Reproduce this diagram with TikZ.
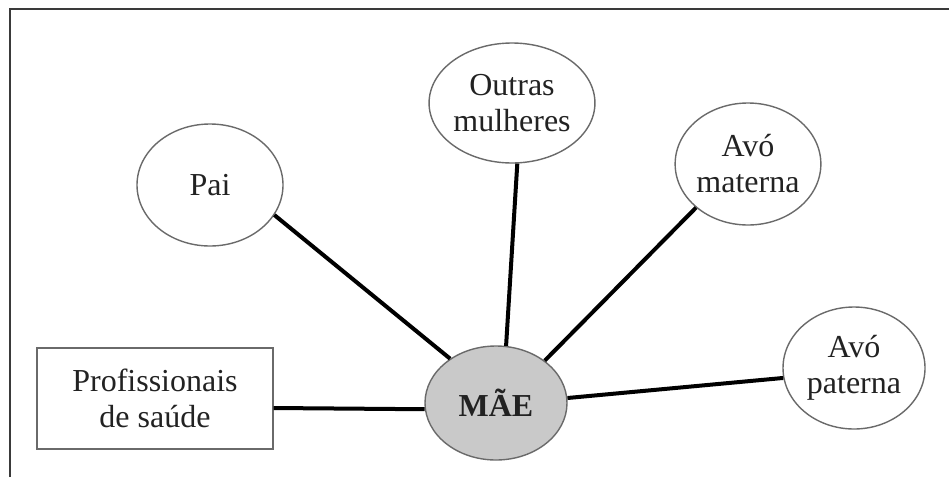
\documentclass[tikz,border=0pt]{standalone}
\usepackage{fontspec}
\setmainfont{Liberation Serif}
\usetikzlibrary{shapes.geometric}
\definecolor{edgegray}{HTML}{6A6A6A}
\definecolor{maefill}{HTML}{C9C9C9}
\definecolor{txt}{HTML}{222222}
\definecolor{framecol}{HTML}{3A3A3A}
\begin{document}
\begin{tikzpicture}[x=1pt,y=-1pt,
  bubble/.style={ellipse,draw=edgegray,line width=1.4pt,fill=white,inner sep=0pt,
    text=txt,align=center,font=\fontsize{32}{36}\selectfont},
  link/.style={line width=4pt,black},
  framel/.style={line width=2pt,framecol}]
\useasboundingbox (0,0) rectangle (949,477);
\fill[white] (0,0) rectangle (949,477);
\coordinate (fa) at (10,477);
\coordinate (fb) at (10,9);
\coordinate (fc) at (949,9);
\draw[framel] (fa) -- (fb) -- (fc);

\node[bubble,minimum width=146,minimum height=122] (pai) at (210,185) {Pai};
\node[bubble,minimum width=154,minimum height=120] (outras) at (512,103) {Outras\\mulheres};
\node[bubble,minimum width=140,minimum height=122] (materna) at (748,164) {Avó\\materna};
\node[bubble,minimum width=142,minimum height=122] (paterna) at (854,368) {Avó\\paterna};
\node[bubble,fill=maefill,minimum width=142,minimum height=114,font=\fontsize{32}{36}\selectfont\bfseries] (mae) at (496,403) {MÃE};
\node[draw=edgegray,line width=1.4pt,fill=white,minimum width=236,minimum height=101,inner sep=0pt,
  text=txt,align=center,font=\fontsize{32}{36}\selectfont] (prof) at (155,398.5) {Profissionais\\de saúde};

\draw[link] ([yshift=-9.5pt]prof.east) -- (mae.185);
\draw[link] (pai.-25.5) -- (mae.136.7);
\draw[link] (outras.-85.3) -- (mae.80.4);
\draw[link] (materna.220.5) -- (mae.41.5);
\draw[link] (paterna.188) -- (mae.4);
\end{tikzpicture}
\end{document}
